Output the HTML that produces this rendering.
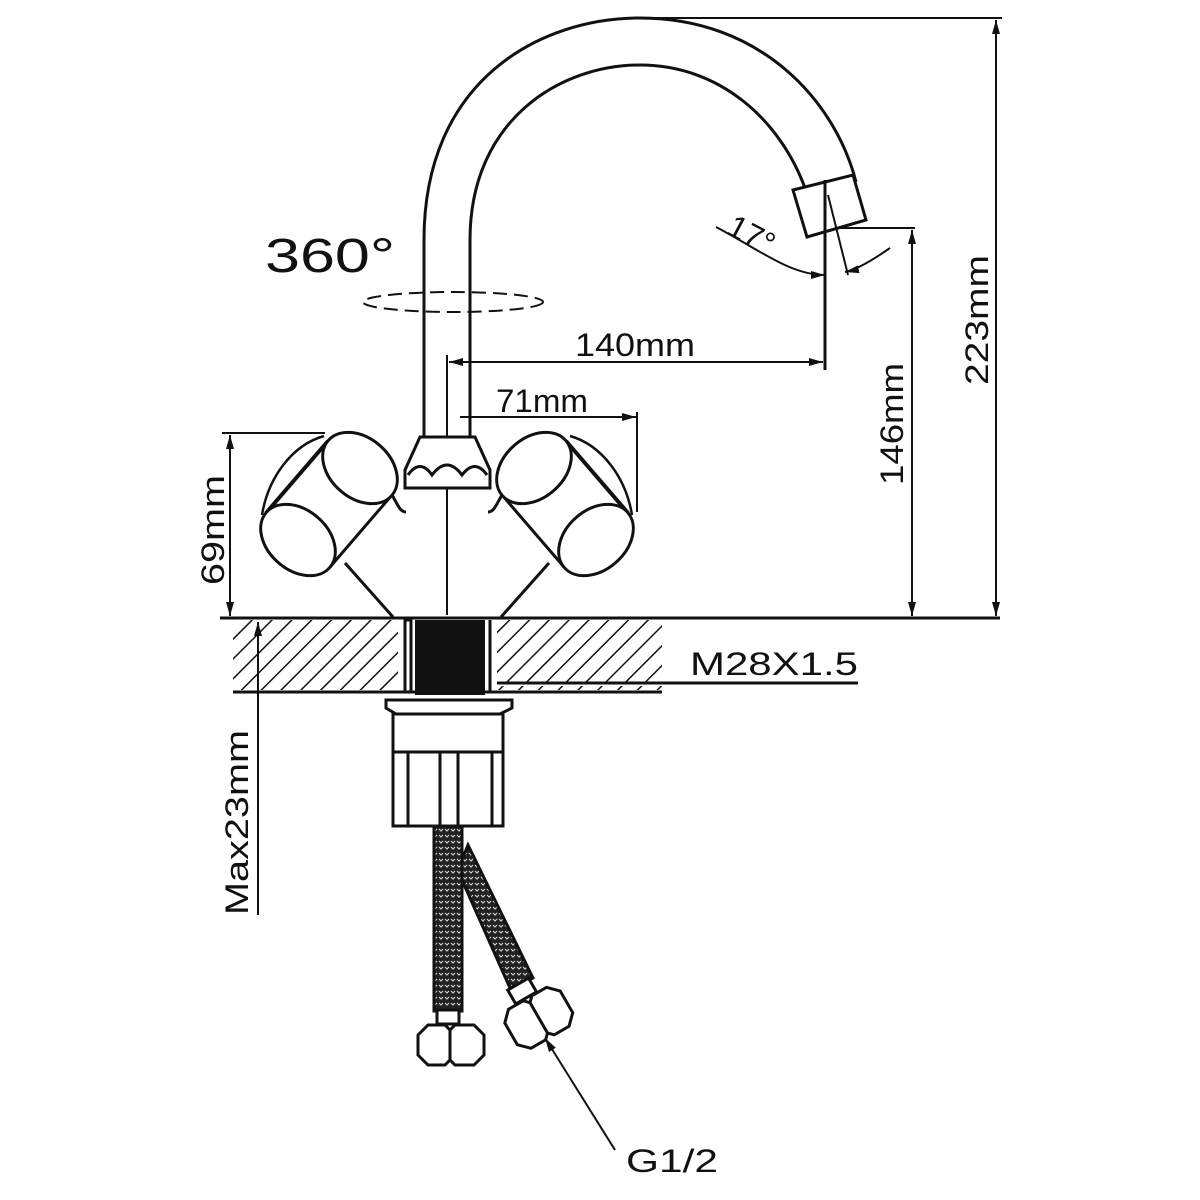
<!DOCTYPE html>
<html><head><style>body{margin:0;background:#fff}svg{display:block}text{font-family:"Liberation Sans",sans-serif;fill:#111}</style></head><body>
<svg width="1200" height="1200" viewBox="0 0 1200 1200" xmlns="http://www.w3.org/2000/svg">
<defs>
<pattern id="h" width="14" height="14" patternUnits="userSpaceOnUse" patternTransform="rotate(45)"><line x1="0" y1="0" x2="0" y2="14" stroke="#111" stroke-width="3"/></pattern>
<pattern id="br" width="6" height="6" patternUnits="userSpaceOnUse"><rect width="6" height="6" fill="#222"/><path d="M1 1 L3 3 L5 1" stroke="#ddd" stroke-width="1" fill="none"/></pattern>
<marker id="a" markerWidth="14" markerHeight="8" refX="14" refY="4" orient="auto" markerUnits="userSpaceOnUse"><path d="M0 0 L14 4 L0 8 Z" fill="#111"/></marker>
</defs>
<g fill="none" stroke="#111" stroke-width="3">
<!-- spout -->
<path d="M424 440 L424 240 C424 80 540 18 640 18 C760 18 835 100 856 182"/>
<path d="M470 440 L470 240 C470 120 560 65 640 65 C720 65 780 120 805 188"/>
<path d="M793 190 L853 175 L866 220 L807 237 Z" fill="#fff"/>
<line x1="825" y1="180" x2="825" y2="370"/>
<line x1="828" y1="195" x2="848" y2="275" stroke-width="2"/>
<path d="M716 227 C760 250 790 275 825 275" stroke-width="2" marker-end="url(#a)"/>
<path d="M890 248 C870 262 855 270 845 272" stroke-width="2" marker-end="url(#a)"/>
<line x1="840" y1="228" x2="915" y2="228" stroke-width="2"/>
<!-- dims -->
<line x1="640" y1="18" x2="1002" y2="18" stroke-width="2"/>
<line x1="996" y1="600" x2="996" y2="20" marker-end="url(#a)" stroke-width="2"/>
<line x1="996" y1="40" x2="996" y2="616" marker-end="url(#a)" stroke-width="2"/>
<line x1="912" y1="600" x2="912" y2="230" marker-end="url(#a)" stroke-width="2"/>
<line x1="912" y1="250" x2="912" y2="616" marker-end="url(#a)" stroke-width="2"/>
<line x1="220" y1="618" x2="1000" y2="618"/>
<line x1="447" y1="355" x2="447" y2="615" stroke-width="2"/>
<line x1="460" y1="362" x2="823" y2="362" marker-end="url(#a)" stroke-width="2"/>
<line x1="800" y1="362" x2="449" y2="362" marker-end="url(#a)" stroke-width="2"/>
<line x1="460" y1="417" x2="636" y2="417" marker-end="url(#a)" stroke-width="2"/>
<line x1="637" y1="412" x2="637" y2="512" stroke-width="2"/>
<line x1="222" y1="433" x2="325" y2="433" stroke-width="2"/>
<line x1="230" y1="600" x2="230" y2="435" marker-end="url(#a)" stroke-width="2"/>
<line x1="230" y1="450" x2="230" y2="616" marker-end="url(#a)" stroke-width="2"/>
<ellipse cx="453" cy="302" rx="90" ry="10" stroke-dasharray="14 7" stroke-width="2"/>
<!-- hub -->
<path d="M420 437 L475 437 L490 470 L490 488 L405 488 L405 470 Z" fill="#fff"/>
<path d="M408 475 Q420 458 432 475 Q447 455 462 475 Q475 458 487 475"/>
<!-- handles -->
<g id="hl">
<line x1="345" y1="563" x2="393" y2="617"/>
<path d="M392 495 C398 505 400 512 406 512"/>
<path d="M328 441 L266 513 L330 567 L392 495 Z" fill="#fff" stroke="none"/>
<line x1="328" y1="441" x2="266" y2="513" stroke-width="4"/>
<line x1="392" y1="495" x2="330" y2="567"/>
<ellipse cx="360" cy="468" rx="42" ry="30" transform="rotate(41 360 468)" fill="#fff"/>
<path d="M324 436 C292 445 268 478 262 515" stroke-width="2.5"/>
<ellipse cx="298" cy="540" rx="42" ry="30" transform="rotate(41 298 540)" fill="#fff"/>
</g>
<use href="#hl" transform="translate(894 0) scale(-1 1)"/>
<!-- base -->
<rect x="233" y="620" width="165" height="70" fill="url(#h)" stroke="none"/>
<rect x="497" y="620" width="165" height="63" fill="url(#h)" stroke="none"/>
<rect x="497" y="686" width="165" height="4" fill="url(#h)" stroke="none"/>
<rect x="405" y="620" width="6" height="72" fill="#fff"/>
<rect x="415" y="620" width="70" height="75" fill="#111" stroke="none"/>
<line x1="490" y1="620" x2="490" y2="692"/>
<line x1="233" y1="692" x2="662" y2="692"/>
<line x1="497" y1="683" x2="858" y2="683"/>
<path d="M386 700 L512 700 L512 708 L500 714 L396 714 L386 708 Z"/>
<rect x="393" y="714" width="110" height="112" fill="#fff"/>
<line x1="393" y1="752" x2="503" y2="752"/>
<line x1="408" y1="752" x2="408" y2="826"/><line x1="440" y1="752" x2="440" y2="826"/>
<line x1="458" y1="752" x2="458" y2="826"/><line x1="492" y1="752" x2="492" y2="826"/>
<!-- hoses -->
<path d="M462 860 L468 845 L533 978 L510 988 L462 880 Z" fill="url(#br)"/>
<rect x="434" y="826" width="28" height="185" fill="url(#br)"/>
<rect x="437" y="1010" width="22" height="14" fill="#fff"/>
<path d="M418 1035 L428 1025 L445 1025 L450 1030 L455 1025 L474 1025 L484 1035 L484 1055 L474 1065 L455 1065 L450 1060 L445 1065 L428 1065 L418 1055 Z" fill="#fff"/>
<line x1="450" y1="1030" x2="450" y2="1060"/>
<g transform="rotate(-30 540 1020)"><rect x="527" y="978" width="24" height="16" fill="#fff"/><path d="M508 1005 L518 995 L535 995 L540 1000 L545 995 L562 995 L572 1005 L572 1030 L562 1040 L545 1040 L540 1035 L535 1040 L518 1040 L508 1030 Z" fill="#fff"/><line x1="540" y1="1000" x2="540" y2="1035"/></g>
<line x1="615" y1="1150" x2="545" y2="1038" marker-end="url(#a)" stroke-width="2"/>
<line x1="258" y1="915" x2="258" y2="622" marker-end="url(#a)" stroke-width="2"/>
</g>
<g font-size="32">
<text x="265" y="272" font-size="48" textLength="130" lengthAdjust="spacingAndGlyphs">360°</text>
<text x="725" y="233" transform="rotate(28 725 233)">17°</text>
<text x="575" y="356" textLength="120" lengthAdjust="spacingAndGlyphs">140mm</text>
<text x="496" y="412" textLength="92" lengthAdjust="spacingAndGlyphs">71mm</text>
<text x="690" y="675" textLength="168" lengthAdjust="spacingAndGlyphs">M28X1.5</text>
<text x="626" y="1172" textLength="92" lengthAdjust="spacingAndGlyphs">G1/2</text>
<text transform="translate(224 585) rotate(-90)" textLength="110" lengthAdjust="spacingAndGlyphs">69mm</text>
<text transform="translate(248 915) rotate(-90)" textLength="185" lengthAdjust="spacingAndGlyphs">Max23mm</text>
<text transform="translate(903 485) rotate(-90)" textLength="122" lengthAdjust="spacingAndGlyphs">146mm</text>
<text transform="translate(988 385) rotate(-90)" textLength="130" lengthAdjust="spacingAndGlyphs">223mm</text>
</g>
</svg>
</body></html>
